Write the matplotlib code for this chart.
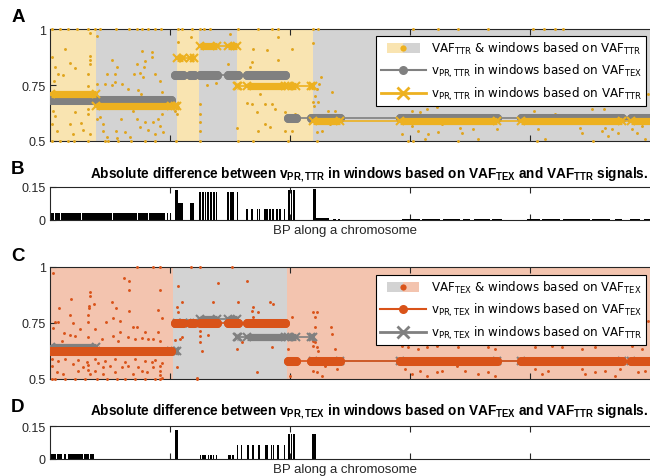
import matplotlib
matplotlib.use("Agg")
import matplotlib.pyplot as plt
from matplotlib.patches import Rectangle, Patch
from matplotlib.lines import Line2D
from matplotlib.legend_handler import HandlerBase

plt.rcParams['font.family'] = ['Liberation Sans', 'DejaVu Sans']
plt.rcParams['mathtext.fontset'] = 'custom'
plt.rcParams['mathtext.rm'] = 'DejaVu Sans'
plt.rcParams['mathtext.it'] = 'DejaVu Sans:italic'
plt.rcParams['mathtext.bf'] = 'Liberation Sans:bold'
plt.rcParams['mathtext.sf'] = 'DejaVu Sans'

# ------------------------------------------------------------------ data
# positions in Mb along the chromosome
snp_start = [0.25, 31.25, 35.0, 37.5, 44.5, 49.25, 59.5, 65.25, 87.5, 117.75, 145.25]
snp_end = [30.25, 33.25, 36.0, 41.75, 47.0, 58.75, 61.5, 72.5, 111.75, 143.0, 151.25]

tex_bounds = [0, 30.75, 59.25, 152]
ttr_bounds = [0, 11.5, 31.75, 37.25, 46.75, 65.75, 152]

a_vpr_tex = [0.683, 0.795, 0.602]            # v_PR,TTR in windows based on VAF_TEX
a_vpr_ttr = [0.712, 0.655, 0.870, 0.925, 0.745, 0.590]  # v_PR,TTR in windows based on VAF_TTR
c_vpr_tex = [0.625, 0.750, 0.580]            # v_PR,TEX in windows based on VAF_TEX
c_vpr_ttr = [0.645, 0.625, 0.750, 0.770, 0.688, 0.580]  # v_PR,TEX in windows based on VAF_TTR

# VAF_TTR points (panel A)
a_top_pos = [0.5, 2.5, 4.5, 6.75, 9.5, 11.25, 12.5, 16.5, 19.75, 21.75, 23, 24.5, 26.25, 27.75,
             32, 33, 35.5, 37.5, 38.5, 40, 47, 52, 55.5, 57, 65.75, 67, 90.75, 97, 102, 109.5,
             120.75, 123.5, 126.25, 128.25]
a_bot_pos = [0.5, 2.5, 4.5, 6, 9.5, 13.75, 14.5, 17, 20.25, 23.75, 26.25, 31.5, 37.5, 47,
             50.75, 59.5, 66.75, 89.5, 90.75, 135.75]
a_pos = [10, 11.75, 3.75, 0.5, 10, 10, 10, 5, 1.25, 6.25, 2, 9.5, 3.25, 16.25, 1, 13.75, 15.5,
         16.25, 18, 23, 25.5, 23.75, 25.5, 15.5, 21.75, 23.5, 16.75, 14.25, 22.5, 21, 23.25,
         26.25, 27.5, 19.5, 22, 22.75, 28, 11.75, 9.5, 32, 35.25, 44.5, 41.5, 39.25, 45, 49.25,
         37.5, 37.5, 37.5, 37.5, 31.75, 32, 46.75,
         0.75, 1.25, 0.5, 1.75, 5, 6.25, 5.75, 7.75, 8.25, 9.5, 9.5, 10, 11.75, 12.5, 13.25,
         13.25, 14.25, 16.5, 17.75, 18.75, 20, 21.75, 22.5, 23.75, 24.5, 25.75, 26.25, 27, 27.5,
         28.25, 28, 31.25, 16.75, 20.75,
         50.75, 54.25, 57, 60.5, 50.5, 50, 57, 65.75, 67.75, 67.25, 66.75, 66.25, 65.75, 67, 66,
         70.5, 69.5, 71.25, 70, 68, 66.75, 52.5, 50.5, 53.75, 51.75, 56.25, 55.5, 58.75, 53.75,
         55, 60.5, 58.75, 52, 61.25,
         90.5, 92.5, 94.25, 96.75, 88, 90.5, 92, 94.5, 97, 98, 93.75, 102.5, 103, 105.75, 107,
         111.75, 102, 122, 123.75, 121.75, 132.5, 133, 138, 138.75, 140.5, 142, 139.5, 145.5,
         146.75, 148, 148.75, 121, 126.25, 135.5, 138.5, 149.5]
a_vaf = [0.982, 0.969, 0.911, 0.875, 0.879, 0.862, 0.844, 0.848, 0.83, 0.826, 0.80, 0.80, 0.795,
         0.80, 0.768, 0.754, 0.75, 0.763, 0.754, 0.902, 0.897, 0.857, 0.875, 0.862, 0.844, 0.83,
         0.83, 0.80, 0.804, 0.80, 0.786, 0.80, 0.768, 0.732, 0.728, 0.71, 0.719, 0.754, 0.746,
         0.942, 0.964, 0.844, 0.759, 0.75, 0.978, 0.67, 0.665, 0.62, 0.585, 0.545, 0.62, 0.652,
         0.558,
         0.634, 0.612, 0.576, 0.545, 0.576, 0.629, 0.531, 0.58, 0.549, 0.643, 0.62, 0.531, 0.598,
         0.607, 0.576, 0.545, 0.518, 0.545, 0.598, 0.54, 0.518, 0.598, 0.563, 0.585, 0.549, 0.585,
         0.531, 0.598, 0.567, 0.54, 0.62, 0.634, 0.513, 0.634,
         0.911, 0.906, 0.964, 0.911, 0.853, 0.83, 0.862, 0.9375, 0.786, 0.754, 0.732, 0.70, 0.674,
         0.674, 0.656, 0.719, 0.634, 0.634, 0.576, 0.545, 0.54, 0.71, 0.665, 0.665, 0.629, 0.643,
         0.665, 0.629, 0.576, 0.5625, 0.545, 0.545, 0.545, 0.62,
         0.634, 0.629, 0.643, 0.652, 0.531, 0.567, 0.545, 0.531, 0.54, 0.576, 0.509, 0.558, 0.536,
         0.554, 0.51, 0.554, 0.50, 0.554, 0.51, 0.50, 0.56, 0.536, 0.545, 0.56, 0.554, 0.536,
         0.522, 0.554, 0.536, 0.565, 0.51, 0.634, 0.62, 0.643, 0.643, 0.71]

# VAF_TEX points (panel C)
c_top_pos = [21.75, 25.75, 27.5, 35.25, 37.5, 45.5]
c_bot_pos = [0.5, 1.25, 3.75, 6.25, 8.75, 11.75, 14.25, 16.75, 18.75, 21.25, 23.75, 26.25, 27.5, 36.75]
c_pos = [0.75, 18.5, 19.75, 19.75, 27.5, 10, 10, 5.25, 15.5, 11, 9.75, 9.75, 2.25, 16.5, 19.75,
         27, 5, 9.5, 15.75, 17.5, 28, 1.25, 2, 5.75, 9.5, 14, 11.25, 7.5, 21.75, 20.75, 23.75,
         17.5, 27, 0.75, 3.5, 5, 6.25, 9.5, 13, 15.75, 19.5, 21.25, 23, 24.5, 25.75, 27.5, 17, 3,
         0.5, 2, 3.75, 7, 9.25, 11.25, 13.75, 16.25, 18.75, 21.25, 23.75, 26.25, 28,
         0.5, 1.75, 3.25, 5.75, 7, 8.25, 9.5, 9.5, 10, 11.25, 12, 13.25, 13.25, 15, 16.25, 18,
         19.5, 20.75, 22, 23, 24.25, 25.5, 25.75, 27.5, 27.5, 27.5, 28,
         32, 42, 49.25, 33, 40.75, 47, 31.75, 32, 32.5, 33, 37.5, 37.5, 37.5, 39.5, 38, 46.75, 48,
         31.25, 31.75, 36.75,
         55, 55.75, 50.75, 50.5, 52, 50.75, 50, 55.5, 51.75, 60.5, 65.75, 66.75, 66.25, 66.25,
         70.25, 70.5, 65.75, 66.25, 65.75, 66.75, 67, 65.75, 66.75, 68, 71.25, 71.75, 59.5, 60,
         68.75,
         88, 89.5, 92, 94.25, 96.75, 98.75, 88.75, 90.5, 92.5, 94.25, 96.75, 98, 102, 109.5,
         111.25, 121.25, 125.5, 128, 133, 136.25, 145.5, 148, 149.5, 101.75, 103.75, 107, 109.5,
         111.25, 121.25, 123, 124.5, 133, 133.75, 136.25, 138.75, 141.25, 142.5, 147, 148.75]
c_vaf = [0.973, 0.951, 0.9375, 0.897, 0.897, 0.888, 0.87, 0.857, 0.844, 0.835, 0.826, 0.817, 0.817,
         0.817, 0.804, 0.808, 0.786, 0.786, 0.772, 0.759, 0.772, 0.754, 0.754, 0.75, 0.754, 0.754,
         0.723, 0.723, 0.732, 0.732, 0.71, 0.71, 0.71, 0.728, 0.705, 0.696, 0.692, 0.6875, 0.679,
         0.692, 0.6875, 0.679, 0.683, 0.679, 0.679, 0.67, 0.67, 0.67,
         0.589, 0.58, 0.589, 0.585, 0.576, 0.589, 0.58, 0.589, 0.576, 0.589, 0.58, 0.585, 0.571,
         0.558, 0.531, 0.522, 0.567, 0.536, 0.554, 0.5625, 0.54, 0.522, 0.536, 0.571, 0.554, 0.522,
         0.558, 0.531, 0.554, 0.558, 0.522, 0.554, 0.536, 0.531, 0.576, 0.554, 0.558, 0.536, 0.518,
         0.504,
         0.915, 0.929, 0.9375, 0.844, 0.844, 0.844, 0.821, 0.799, 0.679, 0.6875, 0.714, 0.692,
         0.665, 0.696, 0.625, 0.634, 0.665, 0.674, 0.554, 0.504,
         0.844, 0.835, 0.821, 0.804, 0.799, 0.777, 0.6875, 0.643, 0.531, 0.777, 0.799, 0.799,
         0.777, 0.732, 0.732, 0.70, 0.67, 0.665, 0.647, 0.643, 0.625, 0.536, 0.531, 0.513, 0.634,
         0.545, 0.634, 0.513, 0.558,
         0.647, 0.643, 0.634, 0.643, 0.647, 0.656, 0.545, 0.522, 0.536, 0.513, 0.531, 0.536, 0.643,
         0.643, 0.634, 0.643, 0.647, 0.643, 0.634, 0.643, 0.647, 0.634, 0.759, 0.558, 0.536, 0.522,
         0.531, 0.513, 0.545, 0.522, 0.536, 0.545, 0.522, 0.531, 0.536, 0.513, 0.545, 0.531, 0.536]

# absolute differences (panel B)
b_start = [0.125, 1.25, 2.75, 8.0, 15.75, 22.0, 24.75, 29.125, 29.9,
           31.25, 32.075, 35.0,
           37.3, 38.05, 38.675, 39.3, 40.05, 40.8, 41.425, 44.3, 45.05, 45.55, 46.675,
           49.05, 50.3, 51.675, 52.175, 53.55, 54.05, 54.8, 55.55, 56.55, 57.3, 58.425,
           59.5, 60.15, 60.75, 65.625, 66.375, 70.75, 72.0,
           88, 93, 98.25, 103.25, 106, 110.5, 119.25, 123, 128.25, 135.5, 141.25, 145, 148.5]
b_end = [0.875, 2.375, 7.625, 15.375, 21.625, 24.375, 28.75, 29.5, 30.3,
         32.075, 33.25, 36.0,
         37.7, 38.45, 39.075, 39.7, 40.45, 41.2, 41.825, 44.7, 45.45, 45.95, 47.075,
         49.45, 50.7, 52.075, 52.575, 53.95, 54.45, 55.2, 55.95, 56.95, 57.7, 58.825,
         60.0, 60.6, 61.25, 66.375, 69.75, 71.5, 72.5,
         92.5, 97.5, 102.5, 105, 110, 113, 122.5, 127.5, 135, 140, 143, 147.5, 150]
b_height = [0.03] * 9 + [0.138, 0.078, 0.078] + [0.128] * 11 + [0.048] * 11 + \
           [0.138, 0.138, 0.138, 0.14, 0.008, 0.005, 0.005] + [0.005] * 13

# absolute differences (panel D)
d_start = [0.125, 1.75, 3.375, 4.375, 8.5, 10.0,
           31.25,
           37.4, 38.05, 38.55, 39.4, 40.05, 40.7, 41.4, 44.5, 44.9, 45.55,
           46.7, 47.7, 49.3, 50.6, 51.9, 52.2, 53.65, 54.0, 55.2, 55.7, 56.8, 58.4,
           59.5, 60.15, 60.75, 65.6]
d_end = [1.375, 3.0, 4.0, 8.125, 9.75, 11.0,
         32.075,
         37.8, 38.45, 38.95, 39.8, 40.45, 41.1, 41.8, 44.9, 45.3, 45.95,
         47.1, 48.1, 49.7, 51.0, 52.3, 52.6, 54.05, 54.4, 55.6, 56.1, 57.2, 58.8,
         60.0, 60.6, 61.25, 66.4]
d_height = [0.022] * 6 + [0.134] + [0.018] * 10 + [0.062] * 12 + [0.115] * 4

# ------------------------------------------------------------------ style
YEL = '#EDB120'
YEL_DOT = '#E0A41C'
YEL_BG = '#F9E4B1'
ORA = '#D95319'
SAL_BG = '#F3C4AF'
GRAY = '#808080'
GRAY_BG = '#D3D3D3'
AXC = '#262626'

W, H = 650, 477
fig = plt.figure(figsize=(W / 100, H / 100), dpi=100)


def rect(l, t, r, b):
    return [l / W, 1 - b / H, (r - l) / W, (b - t) / H]


axA = fig.add_axes(rect(50, 30, 650, 142))
axB = fig.add_axes(rect(50, 188, 650, 221))
axC = fig.add_axes(rect(50, 268, 650, 380))
axD = fig.add_axes(rect(50, 427, 650, 460))


def style(ax, yt, ylab, ylim):
    ax.set_xlim(0, 150)
    ax.set_ylim(*ylim)
    ax.set_xticks([30, 60, 90, 120])
    ax.set_xticklabels([])
    ax.set_yticks(yt)
    ax.set_yticklabels(ylab)
    ax.tick_params(direction='in', length=4.3, width=0.8, color=AXC, top=True,
                   labelsize=9, pad=3, labelcolor=AXC)
    for s in ['left', 'top', 'bottom']:
        ax.spines[s].set_color(AXC)
        ax.spines[s].set_linewidth(0.8)
    ax.spines['right'].set_visible(False)


def window_segments(bounds, values):
    """SNP clusters falling in each window, grouped per window."""
    groups = []
    for w0, w1, v in zip(bounds[:-1], bounds[1:], values):
        segs = []
        for a, b in zip(snp_start, snp_end):
            s, e = max(a, w0), min(b, w1)
            if e >= s:
                segs.append((s, e, v))
        segs.sort()
        groups.append(segs)
    return groups


def draw_series(ax, groups, color, marker, z):
    for segs in groups:
        if not segs:
            continue
        ax.plot([segs[0][0], segs[-1][1]], [segs[0][2], segs[-1][2]], color=color, lw=1.2,
                zorder=z)
        for s, e, v in segs:
            if marker == 'o':
                ax.plot([s, e], [v, v], color=color, lw=6.5, solid_capstyle='round', zorder=z)
                ax.plot([s, e], [v, v], ls='none', marker='o', ms=6.5, mew=0, color=color,
                        zorder=z)
            else:
                ax.plot([s, e], [v, v], color=color, lw=5.2, solid_capstyle='butt', zorder=z)
                ax.plot([s, e], [v, v], ls='none', marker='x', ms=5.8, mew=1.5, color=color,
                        zorder=z)


def draw_windows(ax, bounds, colors):
    for i, (w0, w1) in enumerate(zip(bounds[:-1], bounds[1:])):
        ax.axvspan(w0, w1, color=colors[i % 2], lw=0, zorder=0)


def draw_dots(ax, top, bot, pos, vaf, color):
    xs = list(top) + list(bot) + list(pos)
    ys = [1.0] * len(top) + [0.5] * len(bot) + list(vaf)
    ax.plot(xs, ys, ls='none', marker='o', ms=2.1, mew=0, color=color, zorder=3, clip_on=False)


class SplitHandler(HandlerBase):
    def __init__(self, left, right, dot):
        super().__init__()
        self.left, self.right, self.dot = left, right, dot

    def create_artists(self, legend, orig_handle, xdescent, ydescent, width, height,
                       fontsize, trans):
        w = width * 0.72
        x0 = -xdescent + (width - w) / 2
        h = height * 1.25
        y0 = -ydescent + (height - h) / 2
        r1 = Rectangle((x0, y0), w / 2, h, facecolor=self.left, edgecolor='none', transform=trans)
        r2 = Rectangle((x0 + w / 2, y0), w / 2, h, facecolor=self.right, edgecolor='none',
                       transform=trans)
        d = Line2D([x0 + w / 2], [-ydescent + height / 2], ls='none', marker='o', ms=4.5, mew=0,
                   color=self.dot, transform=trans)
        return [r1, r2, d]


def add_legend(ax, handles, labels, handler_map, top_px):
    leg = ax.legend(handles, labels, handler_map=handler_map, loc='upper right',
                    bbox_to_anchor=(646 / W, 1 - top_px / H), bbox_transform=fig.transFigure,
                    borderaxespad=0, frameon=True, fancybox=False, framealpha=1,
                    edgecolor='black', prop={'family': 'DejaVu Sans', 'size': 8.6},
                    handlelength=3.8, handletextpad=0.4, labelspacing=0.45, borderpad=0.35)
    leg.get_frame().set_linewidth(0.8)
    leg.set_zorder(10)
    return leg


# ------------------------------------------------------------------ panel A
style(axA, [0.5, 0.75, 1.0], ['0.5', '0.75', '1'], (0.5, 1.0))
draw_windows(axA, ttr_bounds, [YEL_BG, GRAY_BG])
draw_dots(axA, a_top_pos, a_bot_pos, a_pos, a_vaf, YEL_DOT)
draw_series(axA, window_segments(tex_bounds, a_vpr_tex), GRAY, 'o', 4)
draw_series(axA, window_segments(ttr_bounds, a_vpr_ttr), YEL, 'x', 5)

hA1 = Patch()
hA2 = Line2D([], [], color=GRAY, lw=1.5, marker='o', ms=6.5, mew=0)
hA3 = Line2D([], [], color=YEL, lw=2.0, marker='x', ms=8, mew=2)
add_legend(axA, [hA1, hA2, hA3],
           [r'VAF$_{\mathrm{TTR}}$ & windows based on VAF$_{\mathrm{TTR}}$',
            r'v$_{\mathrm{PR,TTR}}$ in windows based on VAF$_{\mathrm{TEX}}$',
            r'v$_{\mathrm{PR,TTR}}$ in windows based on VAF$_{\mathrm{TTR}}$'],
           {hA1: SplitHandler(YEL_BG, GRAY_BG, YEL)}, 37)

# ------------------------------------------------------------------ panel C
style(axC, [0.5, 0.75, 1.0], ['0.5', '0.75', '1'], (0.5, 1.0))
draw_windows(axC, tex_bounds, [SAL_BG, GRAY_BG])
draw_dots(axC, c_top_pos, c_bot_pos, c_pos, c_vaf, ORA)
draw_series(axC, window_segments(ttr_bounds, c_vpr_ttr), GRAY, 'x', 4)
draw_series(axC, window_segments(tex_bounds, c_vpr_tex), ORA, 'o', 5)

hC1 = Patch()
hC2 = Line2D([], [], color=ORA, lw=1.5, marker='o', ms=6.5, mew=0)
hC3 = Line2D([], [], color=GRAY, lw=2.0, marker='x', ms=8, mew=2)
add_legend(axC, [hC1, hC2, hC3],
           [r'VAF$_{\mathrm{TEX}}$ & windows based on VAF$_{\mathrm{TEX}}$',
            r'v$_{\mathrm{PR,TEX}}$ in windows based on VAF$_{\mathrm{TEX}}$',
            r'v$_{\mathrm{PR,TEX}}$ in windows based on VAF$_{\mathrm{TTR}}$'],
           {hC1: SplitHandler(GRAY_BG, SAL_BG, ORA)}, 276)

# ------------------------------------------------------------------ panels B, D
for ax, st, en, hh in [(axB, b_start, b_end, b_height), (axD, d_start, d_end, d_height)]:
    style(ax, [0, 0.15], ['0', '0.15'], (0, 0.15))
    ax.bar(st, hh, width=[e - s for s, e in zip(st, en)], align='edge', color='black',
           lw=0, zorder=2)

title_B = (r'Absolute difference between v$_{\mathbf{PR,TTR}}$ in windows based on '
           r'VAF$_{\mathbf{TEX}}$ and VAF$_{\mathbf{TTR}}$ signals.')
title_D = (r'Absolute difference between v$_{\mathbf{PR,TEX}}$ in windows based on '
           r'VAF$_{\mathbf{TEX}}$ and VAF$_{\mathbf{TTR}}$ signals.')
fig.text(369 / W, 1 - 175 / H, title_B, ha='center', va='center', fontsize=9.8,
         fontweight='bold', color='black')
fig.text(369 / W, 1 - 412 / H, title_D, ha='center', va='center', fontsize=9.8,
         fontweight='bold', color='black')
for y in (231, 470):
    fig.text(345 / W, 1 - y / H, 'BP along a chromosome', ha='center', va='center',
             fontsize=9.5, color=AXC)

for lab, y in (('A', 18), ('B', 170), ('C', 257), ('D', 408)):
    fig.text(18 / W, 1 - y / H, lab, ha='center', va='center', fontsize=13.5,
             fontweight='bold', color='black')

fig.savefig('out.png', dpi=100)
